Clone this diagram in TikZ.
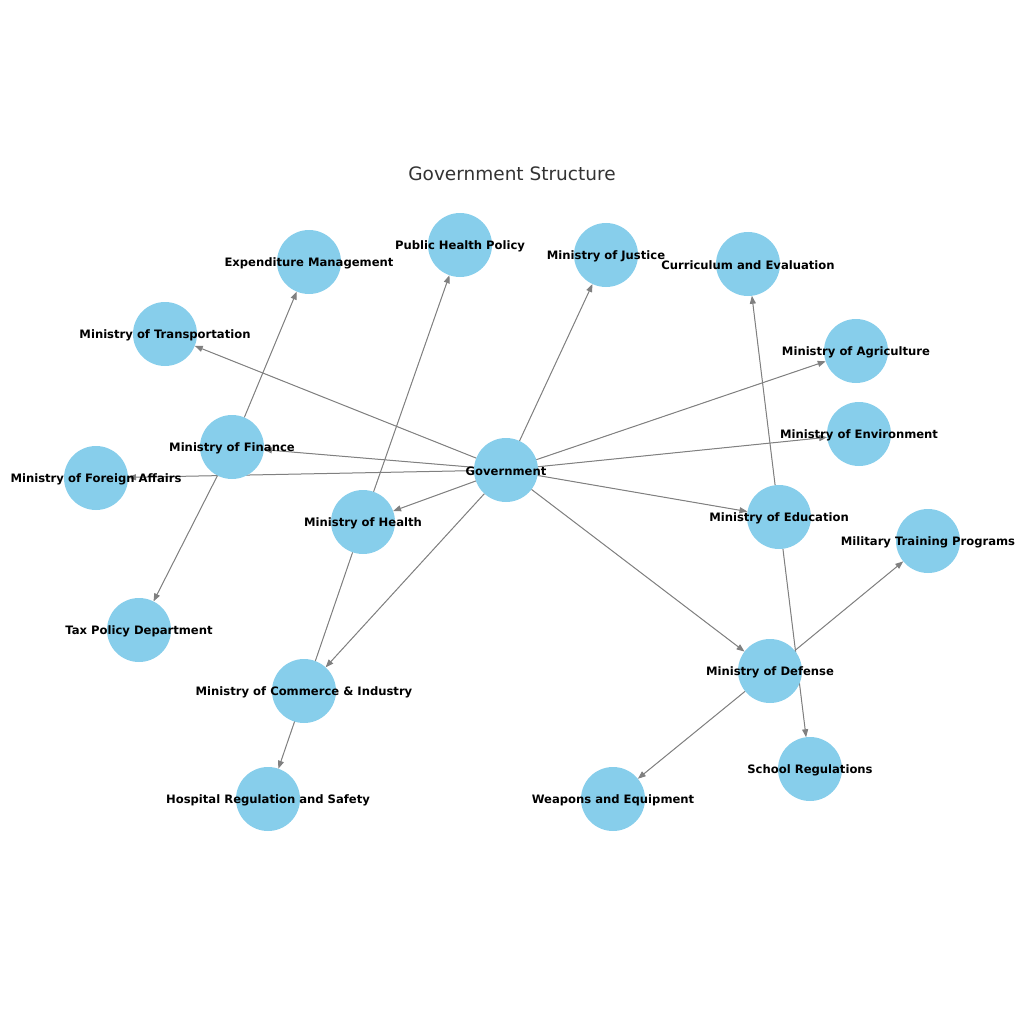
\documentclass[tikz,border=0pt]{standalone}
\usepackage{fontspec}
\setmainfont{DejaVu Sans}
\usetikzlibrary{arrows.meta,backgrounds}
\definecolor{govBlue}{HTML}{87CEEB}
\definecolor{govTitle}{HTML}{333333}
\begin{document}
\begin{tikzpicture}[
    x=1pt,y=-1pt,
    govNode/.style={circle,fill=govBlue,minimum size=64pt,inner sep=0pt,outer sep=0pt},
    govText/.style={font=\fontsize{11.6}{13}\selectfont\bfseries,text=black,inner sep=0pt,yshift=-1pt},
    govArrow/.style={-{Stealth[inset=0pt,length=8pt,width=6pt]},draw=gray,fill=gray,line width=1pt},
]
\useasboundingbox (0,0) rectangle (1024,1024);
\node[font=\fontsize{18.5}{22}\selectfont,text=govTitle] (title) at (512,174) {Government Structure};
% nodes
\node[govNode] (gov) at (506,470) {};
\node[govNode] (transp) at (165,334) {};
\node[govNode] (expend) at (309,262) {};
\node[govNode] (pubhealth) at (460,245) {};
\node[govNode] (justice) at (606,255) {};
\node[govNode] (curric) at (748,264) {};
\node[govNode] (agri) at (856,351) {};
\node[govNode] (env) at (859,434) {};
\node[govNode] (finance) at (232,447) {};
\node[govNode] (foreign) at (96,478) {};
\node[govNode] (health) at (363,522) {};
\node[govNode] (edu) at (779,517) {};
\node[govNode] (military) at (928,541) {};
\node[govNode] (tax) at (139,630) {};
\node[govNode] (commerce) at (304,691) {};
\node[govNode] (defense) at (770,671) {};
\node[govNode] (school) at (810,769) {};
\node[govNode] (hospital) at (268,799) {};
\node[govNode] (weapons) at (613,799) {};
% labels
\node[govText] at (gov) {Government};
\node[govText] at (transp) {Ministry of Transportation};
\node[govText] at (expend) {Expenditure Management};
\node[govText] at (pubhealth) {Public Health Policy};
\node[govText] at (justice) {Ministry of Justice};
\node[govText] at (curric) {Curriculum and Evaluation};
\node[govText] at (agri) {Ministry of Agriculture};
\node[govText] at (env) {Ministry of Environment};
\node[govText] at (finance) {Ministry of Finance};
\node[govText] at (foreign) {Ministry of Foreign Affairs};
\node[govText] at (health) {Ministry of Health};
\node[govText] at (edu) {Ministry of Education};
\node[govText] at (military) {Military Training Programs};
\node[govText] at (tax) {Tax Policy Department};
\node[govText] at (commerce) {Ministry of Commerce \& Industry};
\node[govText] at (defense) {Ministry of Defense};
\node[govText] at (school) {School Regulations};
\node[govText] at (hospital) {Hospital Regulation and Safety};
\node[govText] at (weapons) {Weapons and Equipment};
% edges
\begin{pgfonlayer}{background}
\foreach \dst in {transp,finance,foreign,health,commerce,justice,agri,env,edu,defense}
  \draw[govArrow] (gov) -- (\dst);
\draw[govArrow] (finance) -- (expend);
\draw[govArrow] (finance) -- (tax);
\draw[govArrow] (health) -- (pubhealth);
\draw[govArrow] (health) -- (hospital);
\draw[govArrow] (edu) -- (curric);
\draw[govArrow] (edu) -- (school);
\draw[govArrow] (defense) -- (military);
\draw[govArrow] (defense) -- (weapons);
\end{pgfonlayer}
\end{tikzpicture}
\end{document}
